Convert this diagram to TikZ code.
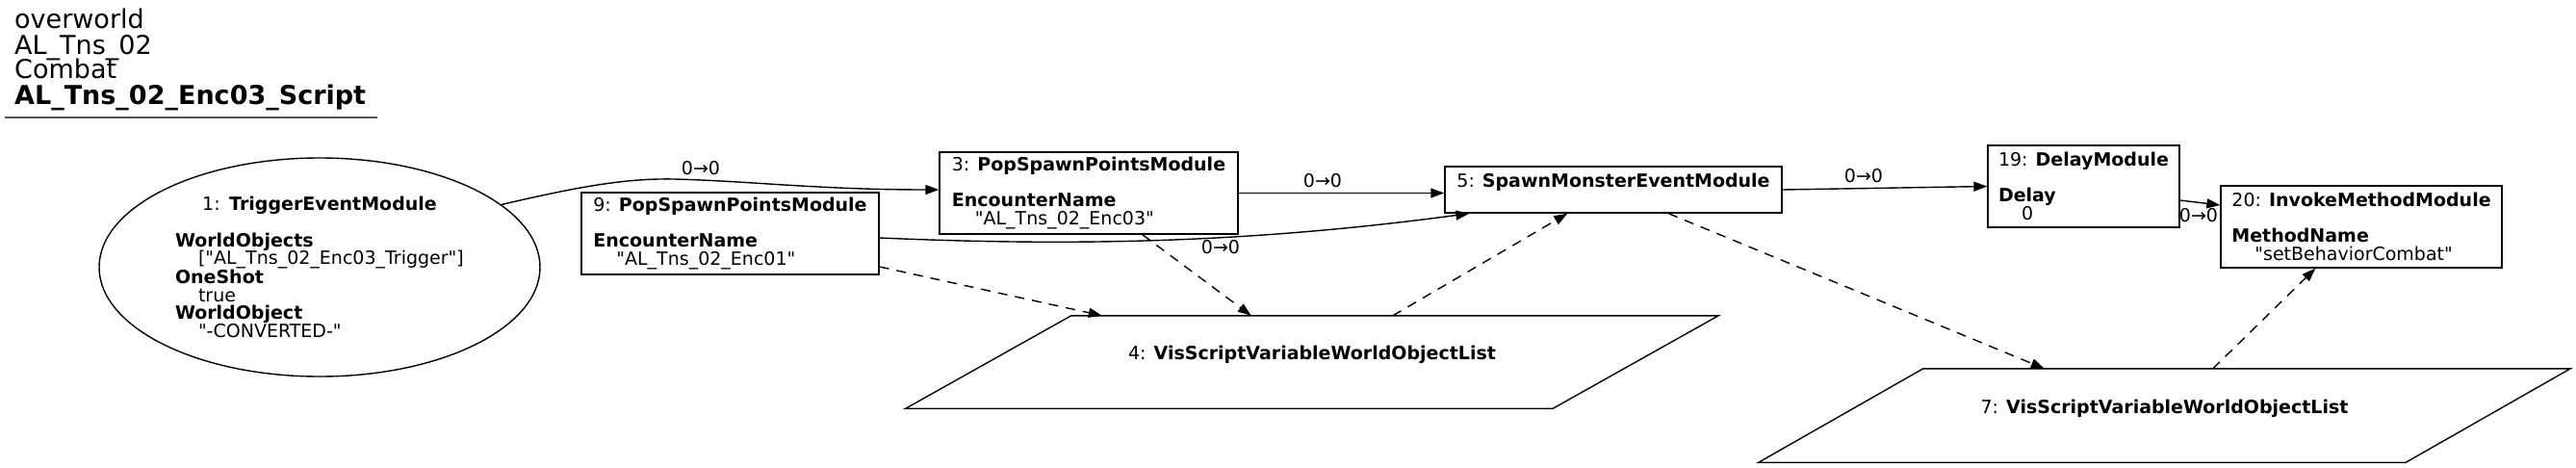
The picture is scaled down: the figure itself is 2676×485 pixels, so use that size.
\documentclass[tikz,border=0pt]{standalone}
\usepackage{fontspec}
\setmainfont{DejaVu Sans}[Ligatures=TeXOff]
\usetikzlibrary{arrows.meta,shapes.geometric}
\newcommand\ndfont{\fontsize{19}{18.6}\selectfont}
\newcommand\ttlfont{\fontsize{27}{27}\selectfont}
\tikzset{
  box/.style={draw, line width=1.4pt, rectangle, inner xsep=11pt, inner ysep=2pt, align=left, font=\ndfont},
  ell/.style={draw, ellipse, line width=1.4pt, inner sep=0pt, minimum width=458pt, minimum height=227pt, text width=300pt, align=left, font=\ndfont},
  plg/.style={rectangle, inner sep=0pt, align=left, font=\ndfont},
  plgline/.style={draw, line width=1.4pt, line join=miter},
  edge/.style={line width=1.4pt, -{Triangle[length=14pt,width=10pt]}},
  dedge/.style={edge, dash pattern=on 10pt off 8pt},
  elabel/.style={font=\ndfont, inner sep=0pt},
  ttl/.style={anchor=base west, inner sep=0pt, font=\ttlfont}
}
\begin{document}
\begin{tikzpicture}[x=1pt,y=-1pt]
\useasboundingbox (0,0) rectangle (2676,485);
% title
\node[ttl] (t1) at (15,29.3) {overworld};
\node[ttl] (t2) at (15,56) {AL\_Tns\_02};
\node[ttl] (t3) at (15,81.7) {Combat};
\node[ttl] (t4) at (15,108.3) {\textbf{AL\_Tns\_02\_Enc03\_Script}};
\draw[line width=2.2pt, black!68] (5,121.7) -- (392,121.7);

% nodes
\node[ell] (n1) at (332,277.5) {\makebox[\linewidth][c]{1: \textbf{TriggerEventModule}}\\[18.6pt]
\textbf{WorldObjects}\\
\hspace*{24pt}["AL\_Tns\_02\_Enc03\_Trigger"]\\
\textbf{OneShot}\\
\hspace*{24pt}true\\
\textbf{WorldObject}\\
\hspace*{24pt}"-CONVERTED-"};

\node[box, minimum width=309pt, minimum height=85pt] (n9) at (758.5,242.5) {9: \textbf{PopSpawnPointsModule}\\[18.6pt]
\textbf{EncounterName}\\
\hspace*{24pt}"AL\_Tns\_02\_Enc01"};

\node[box, minimum width=310pt, minimum height=85pt] (n3) at (1131,200.5) {3: \textbf{PopSpawnPointsModule}\\[18.6pt]
\textbf{EncounterName}\\
\hspace*{24pt}"AL\_Tns\_02\_Enc03"};

\node[box, minimum width=350pt, minimum height=48pt] (n5) at (1676,197) {5: \textbf{SpawnMonsterEventModule}\\ \mbox{}};

\node[box, minimum width=199pt, minimum height=85pt] (n19) at (2164.5,193.5) {19: \textbf{DelayModule}\\[18.6pt]
\textbf{Delay}\\
\hspace*{24pt}0};

\node[box, minimum width=292pt, minimum height=85pt] (n20) at (2453,235.5) {20: \textbf{InvokeMethodModule}\\[18.6pt]
\textbf{MethodName}\\
\hspace*{24pt}"setBehaviorCombat"};

\node[plg, minimum width=844pt, minimum height=96pt] (n4) at (1363,376) {4: \textbf{VisScriptVariableWorldObjectList}\\ \mbox{}};
\draw[plgline] ([xshift=172pt]n4.north west) -- (n4.north east) -- ([xshift=-172pt]n4.south east) -- (n4.south west) -- cycle;

\node[plg, minimum width=843pt, minimum height=97pt] (n7) at (2248.5,431.5) {7: \textbf{VisScriptVariableWorldObjectList}\\ \mbox{}};
\draw[plgline] ([xshift=171pt]n7.north west) -- (n7.north east) -- ([xshift=-171pt]n7.south east) -- (n7.south west) -- cycle;

% solid edges
\draw[edge] (n1.19) .. controls (600,194) and (650,185) .. (700,186) .. controls (780,188) and (850,197) .. ([yshift=3.5pt]n3.west);
\node[elabel] (l13) at (728,175) {0→0};

\draw[edge] (n3.east) -- (n3.east -| n5.west);
\node[elabel] (l35) at (1374,188) {0→0};

\draw[edge] ([yshift=-4.5pt]n9.east) .. controls (1120,256) and (1300,252) .. ([xshift=26pt]n5.south west);
\node[elabel] (l95) at (1268,257) {0→0};

\draw[edge] (n5.east) -- (n19.west);
\node[elabel] (l519) at (1936,183) {0→0};

\draw[edge] ([yshift=-14.5pt]n19.east) -- ([yshift=22.5pt]n20.west);
\node[elabel] (l1920) at (2284,224) {0→0};

% dashed edges
\draw[dedge] ([yshift=-34.5pt]n9.east) -- ([xshift=204pt]n4.north west);
\draw[dedge] ([xshift=211.5pt]n3.south west) -- ([xshift=359pt]n4.north west);
\draw[dedge] ([xshift=506pt]n4.north west) -- ([xshift=128pt]n5.south west);
\draw[dedge] ([xshift=233pt]n5.south west) -- ([xshift=297pt]n7.north west);
\draw[dedge] ([xshift=472pt]n7.north west) -- ([xshift=99pt]n20.south west);
\end{tikzpicture}
\end{document}
